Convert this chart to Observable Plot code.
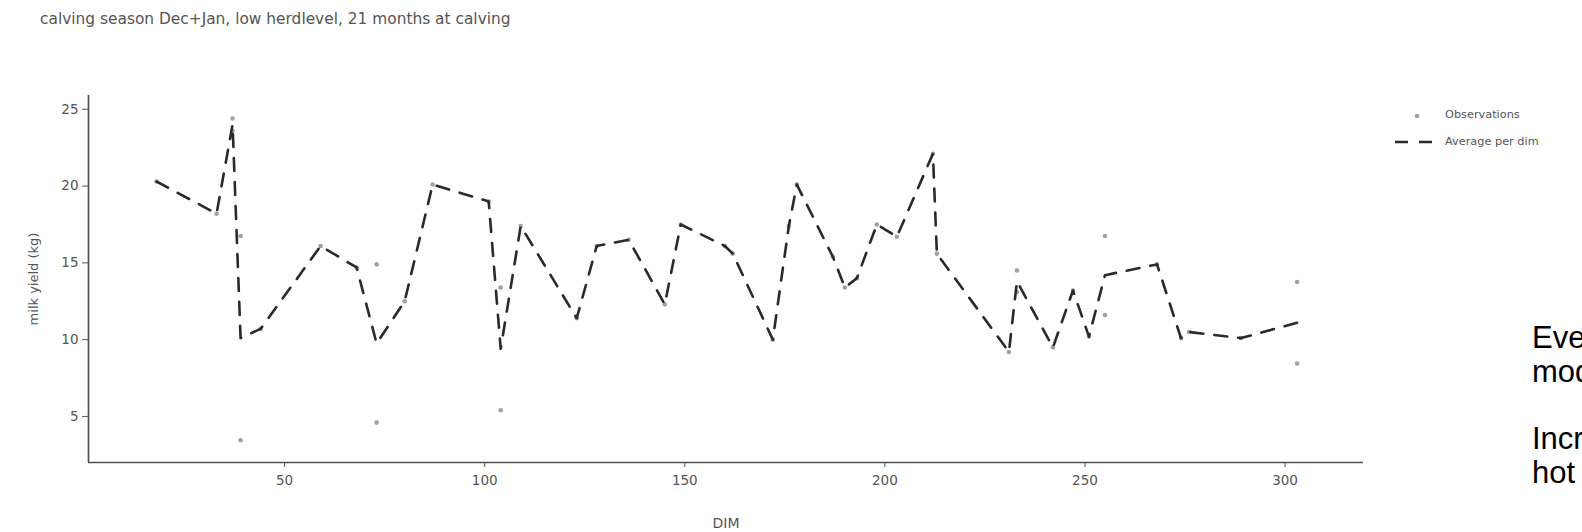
<!DOCTYPE html>
<html>
<head>
<meta charset="utf-8">
<script src="https://cdn.jsdelivr.net/npm/d3@7"></script>
<script src="https://cdn.jsdelivr.net/npm/@observablehq/plot@0.6"></script>
<style>
  html, body { margin: 0; padding: 0; background: #fff; }
  #wrap { position: relative; width: 1582px; height: 532px; overflow: hidden; }
  #title { position: absolute; left: 40px; top: 10px; font: 15.4px "DejaVu Sans", sans-serif; color: #555; white-space: nowrap; }
  .leg { position: absolute; left: 1445px; font: 11.3px "DejaVu Sans", sans-serif; color: #555; white-space: nowrap; }
  #legsym { position: absolute; left: 1390px; top: 106px; }
  #side { position: absolute; left: 1500px; top: 300px; }
  #side text { font: 31px "Liberation Sans", Arial, sans-serif; fill: #000; }
</style>
</head>
<body>
<div id="wrap">
  <div id="chart"></div>
  <div id="title">calving season Dec+Jan, low herdlevel, 21 months at calving</div>
  <svg id="legsym" width="50" height="45">
    <circle cx="27" cy="10" r="2.3" fill="#a0a0a0"></circle>
    <line x1="5" y1="36" x2="43" y2="36" stroke="#2a2a2a" stroke-width="2.6" stroke-dasharray="13,11"></line>
  </svg>
  <div class="leg" style="top:108px">Observations</div>
  <div class="leg" style="top:135px">Average per dim</div>
  <svg id="side" width="82" height="232">
    <text x="32" y="48">Eve</text>
    <text x="32" y="82">mod</text>
    <text x="32" y="149">Incr</text>
    <text x="32" y="183">hot</text>
  </svg>
</div>
<script>
// Average per DIM (dashed line)
const avgDim   = [18, 33, 37, 39, 44, 59, 68, 73, 80, 87, 101, 104, 109, 123, 128, 136, 145, 149, 160, 162, 172, 176, 178, 187, 190, 193, 198, 203, 212, 213, 231, 233, 242, 247, 251, 255, 268, 274, 276, 289, 303];
const avgYield = [20.3, 18.2, 24.0, 10.1, 10.7, 16.1, 14.7, 9.75, 12.5, 20.1, 19.0, 9.4, 17.4, 11.4, 16.1, 16.5, 12.3, 17.5, 16.1, 15.6, 10.0, 17.4, 20.1, 15.4, 13.4, 14.0, 17.5, 16.7, 22.1, 15.6, 9.2, 13.8, 9.5, 13.2, 10.2, 14.2, 14.9, 10.1, 10.5, 10.1, 11.1];

// Individual observations (grey dots)
const obsDim   = [18, 33, 37, 37, 39, 39, 44, 59, 68, 73, 73, 80, 87, 101, 104, 104, 109, 123, 128, 136, 145, 149, 160, 162, 172, 176, 178, 187, 190, 193, 198, 203, 212, 213, 231, 233, 233, 242, 247, 251, 255, 255, 268, 274, 276, 289, 303, 303];
const obsYield = [20.3, 18.2, 24.4, 23.6, 16.75, 3.45, 10.7, 16.1, 14.7, 14.9, 4.6, 12.5, 20.1, 19.0, 13.4, 5.4, 17.4, 11.4, 16.1, 16.5, 12.3, 17.5, 16.1, 15.6, 10.0, 17.4, 20.1, 15.4, 13.4, 14.0, 17.5, 16.7, 22.1, 15.6, 9.2, 14.5, 13.1, 9.5, 13.2, 10.2, 16.75, 11.6, 14.9, 10.1, 10.5, 10.1, 13.75, 8.45];

const xTicks = [50, 100, 150, 200, 250, 300];
const yTicks = [5, 10, 15, 20, 25];
const xTitle = "DIM";
const yTitle = "milk yield (kg)";

const avgData = avgDim.map((d, i) => ({dim: d, y: avgYield[i]}));
const obsData = obsDim.map((d, i) => ({dim: d, y: obsYield[i]}));

const chart = Plot.plot({
  width: 1582,
  height: 532,
  marginLeft: 88,
  marginRight: 219,
  marginTop: 95,
  marginBottom: 70,
  style: {fontFamily: "DejaVu Sans, sans-serif", fontSize: "13px", color: "#555", background: "transparent"},
  x: {domain: [1, 319.6], label: null},
  y: {domain: [2, 25.9], label: null},
  marks: [
    Plot.ruleX([1], {stroke: "#505050", strokeWidth: 1.7}),
    Plot.ruleY([2], {stroke: "#505050", strokeWidth: 1.7}),
    Plot.axisX({ticks: xTicks, tickSize: 5, tickPadding: 8, color: "#555", fontSize: 13.5}),
    Plot.axisY({ticks: yTicks, tickSize: 6, tickPadding: 4, color: "#555", fontSize: 13.5}),
    Plot.dot(obsData, {x: "dim", y: "y", r: 2.3, fill: "#a0a0a0", stroke: "none"}),
    Plot.line(avgData, {x: "dim", y: "y", stroke: "#2a2a2a", strokeWidth: 2.6, strokeDasharray: "13,11"}),
    Plot.text([xTitle], {frameAnchor: "bottom", dy: 65, fontSize: 14, fill: "#555"}),
    Plot.text([yTitle], {frameAnchor: "left", textAnchor: "middle", dx: -55, rotate: -90, fontSize: 13, fill: "#555"})
  ]
});
document.getElementById("chart").appendChild(chart);
</script>
</body>
</html>
